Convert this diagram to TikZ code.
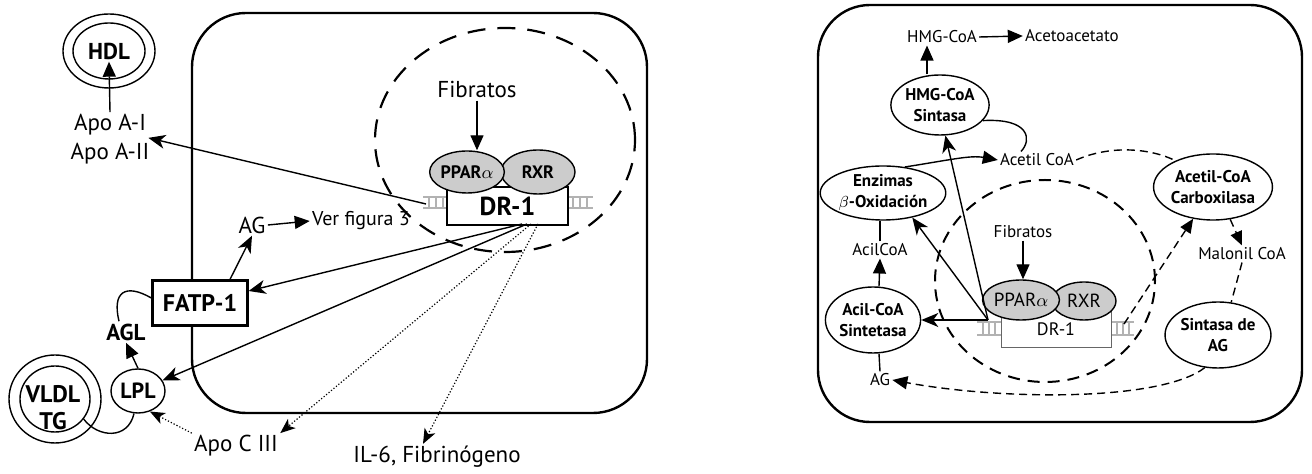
\documentclass[tikz,border=0pt]{standalone}
\usepackage{fontspec}
\setmainfont{PT Sans}
\usetikzlibrary{shapes.geometric,arrows.meta,calc}
\begin{document}
\begin{tikzpicture}[x=0.5pt,y=-0.5pt,
  every node/.style={inner sep=1pt},
  ell/.style={draw,ellipse,inner sep=0pt,line width=0.7pt,fill=white},
  gell/.style={draw,ellipse,inner sep=0pt,line width=0.7pt,fill=gray!40},
  boxl/.style={draw,rectangle,inner sep=0pt,line width=1.1pt,fill=white},
  boxr/.style={draw=black!60,rectangle,inner sep=0pt,line width=0.5pt,fill=white},
  lbl/.style={font=\fontsize{11.5}{14}\selectfont},
  lblb/.style={font=\bfseries\fontsize{11.5}{14}\selectfont},
  rlbl/.style={font=\fontsize{8.5}{10}\selectfont},
  rlblb/.style={font=\bfseries\fontsize{8.5}{10.5}\selectfont,align=center},
  ln/.style={line width=0.7pt},
  tri/.style={ln,-{Triangle[length=7.5pt,width=6.5pt]}},
  stl/.style={ln,-{Stealth[length=8.5pt,width=7pt,inset=2.5pt]}},
  dotln/.style={line width=0.6pt,dash pattern=on 0.6pt off 1pt,-{Stealth[length=7.5pt,width=6pt,inset=2pt]}},
  bigdash/.style={line width=1.1pt,dash pattern=on 9pt off 6pt},
  meddash/.style={line width=1pt,dash pattern=on 6pt off 4pt},
  thindash/.style={line width=0.7pt,dash pattern=on 4pt off 2.5pt},
  ladder/.style={draw=gray!60,line width=1pt},
  panel/.style={line width=1.2pt}
]
\useasboundingbox (0,0) rectangle (1312,474);

%% ================= LEFT PANEL =================
\draw[panel,rounded corners=27pt] (192,13) rectangle (647,413);
\draw[bigdash] (505,140) ellipse [x radius=65pt, y radius=56pt];

% DNA ladders
\foreach \yy in {197,208} {\draw[ladder] (423,\yy) -- (447,\yy); \draw[ladder] (568,\yy) -- (593,\yy);}
\foreach \xx in {429,436,443,573,580,587} {\draw[draw=gray!60,line width=0.6pt] (\xx,197) -- (\xx,208);}

\node[boxl,minimum width=60.5pt,minimum height=19pt,font=\bfseries\fontsize{13}{15}\selectfont] (dr1) at (507.5,206) {\raisebox{-1pt}{DR-1}};
\node[gell,minimum width=37pt,minimum height=22pt,font=\bfseries\fontsize{9}{10}\selectfont] (rxr) at (538,172) {RXR};
\node[gell,minimum width=34pt,minimum height=21pt,font=\bfseries\fontsize{9}{10}\selectfont] (ppar) at (467,172) {PPAR$\alpha$};

\node[lbl] (fib) at (477,90) {Fibratos};
\draw[tri] (fib.south) -- (fib.south |- ppar.north);

% HDL
\node[ell,minimum width=46pt,minimum height=37pt] (hdlo) at (109,51) {};
\node[ell,minimum width=36pt,minimum height=28pt] (hdli) at (109,51) {};
\node[lblb] (hdl) at (109,51) {HDL};
\node[lbl] (apoa1) at (110,125) {Apo A-I};
\node[lbl] (apoa2) at (110,154) {Apo A-II};
\draw[tri] (apoa1.north) -- (hdl.south);

% AG / FATP-1
\node[lbl] (ag) at (252,225) {AG};
\node[font=\fontsize{10}{12}\selectfont] (vf) at (361,221) {Ver figura 3};
\draw[tri] (ag.east) -- (vf.west);
\node[boxl,minimum width=47.5pt,minimum height=22.5pt,font=\bfseries\fontsize{12}{14}\selectfont] (fatp) at (200,303) {FATP-1};
\draw[stl] ([xshift=15pt]fatp.north) -- (ag.south);

% LPL, VLDL
\node[ell,minimum width=27pt,minimum height=22pt,font=\bfseries\fontsize{11}{13}\selectfont] (lpl) at (138,391) {LPL};
\node[ell,minimum width=46pt,minimum height=44pt] (vldlo) at (55,399) {};
\node[ell,minimum width=35pt,minimum height=33pt,fill=none] (vldli) at (55,399) {};
\node[align=center,font=\bfseries\fontsize{12}{13.5}\selectfont] (vldl) at (53,408) {VLDL\\TG};
\node[lblb] (agl) at (126,332) {AGL};
\draw[tri] (lpl.north) -- (agl.south);
\draw[ln] ([xshift=-3.5pt]agl.north) .. controls (112,292) and (125,283) .. ([yshift=2.5pt]fatp.west);
\draw[ln] (vldli.-35) .. controls (98,438) and (128,440) .. (lpl.-100);

\node[lbl] (apoc) at (236,446) {Apo C III};
\node[lbl] (il6) at (437,457) {IL-6, Fibrinógeno};

% connectors from DR-1
\coordinate (laL) at (426,204);
\coordinate (s1) at (522,224);
\coordinate (s2) at (527,224);
\coordinate (d1) at (531,224);
\coordinate (d2) at (538,224);
\draw[stl] (laL) -- (apoa1.south east);
\draw[stl] (s1) -- ([yshift=6pt]fatp.east);
\draw[stl] (s2) -- (lpl);
\draw[dotln] (d1) -- (apoc.north east);
\draw[dotln] (d2) -- ([xshift=-7pt]il6.north);
\draw[dotln] (apoc.north west) -- (lpl.-60);

%% ================= RIGHT PANEL =================
\draw[panel,rounded corners=26pt] (818,5) rectangle (1302,422);
\draw[meddash] (1045,281) ellipse [x radius=55pt, y radius=50.5pt];

\foreach \yy in {322,335} {\draw[ladder] (977,\yy) -- (1001,\yy); \draw[ladder] (1111,\yy) -- (1134,\yy);}
\foreach \xx in {983,989,995,1117,1123,1129} {\draw[draw=gray!60,line width=0.6pt] (\xx,322) -- (\xx,335);}

\node[boxr,minimum width=55pt,minimum height=19pt,font=\fontsize{9}{11}\selectfont] (dr1r) at (1056,329) {\raisebox{-2pt}{DR-1}};
\node[gell,minimum width=32pt,minimum height=19pt,font=\fontsize{9.5}{11}\selectfont] (rxrr) at (1084,301) {RXR};
\node[gell,minimum width=31pt,minimum height=20pt,font=\fontsize{9.5}{11}\selectfont] (pparr) at (1021,300) {PPAR$\alpha$};
\node[rlbl] (fibr) at (1023,232) {Fibratos};
\draw[tri] (fibr.south) -- (fibr.south |- pparr.north);

\node[rlbl] (hmgc) at (942,37) {HMG-CoA};
\node[rlbl] (aceto) at (1072,36) {Acetoacetato};
\draw[tri] (hmgc.east) -- (aceto.west);

\node[ell,minimum width=48pt,minimum height=30pt,rlblb] (hmgs) at (940,105) {HMG-CoA\\Sintasa};
\draw[tri] ([xshift=-6.5pt]hmgs.north) -- ([xshift=-7.5pt]hmgc.south);

\node[rlbl] (acetil) at (1037,160) {Acetil CoA};
\draw[ln] (hmgs.-20) .. controls (1030,118) and (1032,140) .. ([xshift=-8pt]acetil.north);

\node[ell,minimum width=52pt,minimum height=27pt,rlblb] (enz) at (883,193) {Enzimas\\$\beta$-Oxidación};
\draw[tri] (enz.50) .. controls (950,160) and (970,155) .. (acetil.west);

\node[rlbl] (acilcoa) at (880,250) {AcilCoA};
\node[ell,minimum width=43pt,minimum height=33pt,rlblb] (acs) at (873,320) {Acil-CoA\\Sintetasa};
\node[rlbl] (agr) at (880,380) {AG};
\draw[tri] ([xshift=3pt]acs.north) -- (acilcoa.south);
\draw[ln] (acilcoa.north) -- (acilcoa.north |- enz.south);
\draw[ln] ([xshift=3pt]acs.south) -- (agr.north);

\coordinate (drl) at (988,320);
\draw[stl] (drl) -- (acs.east);
\draw[stl] (drl) -- (enz.-40);
\draw[stl] (drl) -- (hmgs.-80);

\node[ell,minimum width=53pt,minimum height=33pt,rlblb] (carb) at (1213,187) {Acetil-CoA\\Carboxilasa};
\node[rlbl] (malo) at (1242,254) {Malonil CoA};
\node[ell,minimum width=48pt,minimum height=33pt,rlblb] (sag) at (1218,335) {Sintasa de\\AG};

\draw[thindash] (acetil.east) .. controls (1110,145) and (1150,148) .. (carb.145);
\coordinate (drr) at (1124,324);
\draw[thindash,-{Triangle[length=7pt,width=6pt]}] (drr) -- (carb.-122);
\draw[thindash,-{Triangle[length=7pt,width=6pt]}] (carb.-62) -- (malo.north);
\draw[thindash] (malo.south) -- (sag.68);
\draw[thindash,-{Triangle[length=7.5pt,width=6.5pt]}] (sag.-112) .. controls (1160,402) and (1000,400) .. (agr.east);
\end{tikzpicture}
\end{document}
